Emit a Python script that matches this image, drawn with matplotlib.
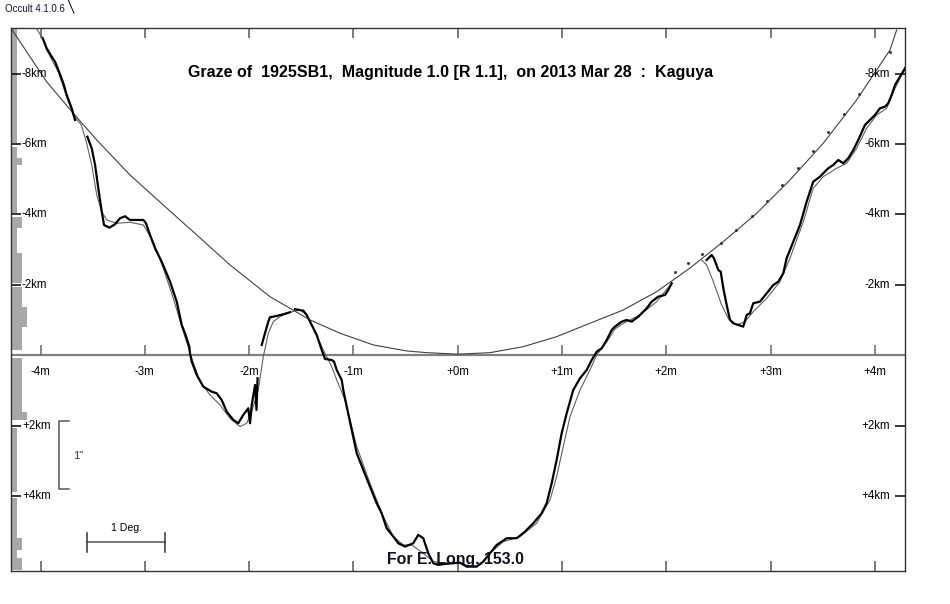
import matplotlib
matplotlib.use("Agg")
import matplotlib.pyplot as plt
from matplotlib.lines import Line2D

plt.rcParams['font.family'] = ['Liberation Sans', 'DejaVu Sans']

# x = minutes from central graze time, y = km from the limb (negative = north / up)
minute_ticks = [-4, -3, -2, -1, 0, 1, 2, 3, 4]
minute_labels = ['-4m', '-3m', '-2m', '-1m', '+0m', '+1m', '+2m', '+3m', '+4m']
km_ticks = [-8, -6, -4, -2, 2, 4]
km_labels = ['-8km', '-6km', '-4km', '-2km', '+2km', '+4km']

# mean limb curve
limb_x = [-4.273, -4.101, -3.941, -3.686, -3.461, -3.142, -2.823, -2.502, -2.183, -1.800,
          -1.416, -1.128, -0.809, -0.489, -0.297, 0.0, 0.310, 0.629, 0.949, 1.268,
          1.588, 1.908, 2.225, 2.546, 2.867, 3.186, 3.505, 3.825, 4.145, 4.209]
limb_y = [-9.25, -8.48, -7.77, -6.875, -6.116, -5.122, -4.270, -3.418, -2.565, -1.665,
          -1.003, -0.625, -0.293, -0.122, -0.074, -0.03, -0.074, -0.244, -0.528, -0.909,
          -1.287, -1.807, -2.472, -3.227, -4.034, -4.980, -6.023, -7.253, -8.673, -9.241]

# dotted limb points
dot_x = [2.083, 2.208, 2.339, 2.522, 2.668, 2.819, 2.963, 3.112, 3.260, 3.404,
         3.553, 3.704, 3.850, 3.998, 4.148]
dot_y = [-2.367, -2.622, -2.869, -3.182, -3.560, -3.966, -4.392, -4.838, -5.313, -5.804,
         -6.335, -6.864, -7.423, -8.011, -8.608]

# Kaguya profile (thick), in pieces
kag1_x = [-3.979, -3.941, -3.893, -3.861, -3.829, -3.781, -3.749, -3.701, -3.669]
kag1_y = [-9.006, -8.722, -8.483, -8.341, -8.105, -7.727, -7.395, -7.017, -6.685]

kag2_x = [-3.551, -3.509, -3.477, -3.446, -3.413, -3.391, -3.340, -3.286, -3.238, -3.190,
          -3.142, -3.078, -3.014, -2.989, -2.950, -2.902, -2.838, -2.758, -2.694, -2.646,
          -2.615, -2.573, -2.567, -2.550, -2.502, -2.439, -2.359, -2.311, -2.263, -2.215,
          -2.151, -2.104, -2.056, -2.008, -1.991, -1.975, -1.943, -1.929, -1.919]
kag2_y = [-6.210, -5.881, -5.406, -4.744, -4.080, -3.702, -3.625, -3.722, -3.892, -3.949,
          -3.844, -3.844, -3.844, -3.750, -3.418, -3.040, -2.659, -2.091, -1.523, -0.861,
          -0.625, -0.244, -0.057, 0.182, 0.560, 0.892, 1.034, 1.080, 1.270, 1.602,
          1.838, 1.932, 1.696, 1.506, 1.932, 1.412, 0.844, 1.554, 0.653]

kag3_x = [-1.879, -1.848, -1.816, -1.800, -1.735, -1.672, -1.608]
kag3_y = [-0.293, -0.625, -0.955, -1.080, -1.116, -1.165, -1.222]

kag4_x = [-1.560, -1.480, -1.448, -1.400, -1.352, -1.304, -1.272, -1.208, -1.186, -1.160,
          -1.112, -1.097, -1.064, -1.016, -0.968, -0.905, -0.841, -0.777, -0.729, -0.681,
          -0.617, -0.570, -0.505, -0.426, -0.378, -0.330, -0.282, -0.234, -0.186, -0.122,
          -0.042, 0.022, 0.086, 0.182, 0.245, 0.310, 0.374, 0.470, 0.566, 0.645,
          0.725, 0.805, 0.853, 0.901, 0.949, 0.997, 1.045, 1.108, 1.173, 1.237,
          1.285, 1.333, 1.381, 1.429, 1.477, 1.508, 1.572, 1.620, 1.668, 1.732,
          1.812, 1.860, 1.923, 1.988, 2.019, 2.052]
kag4_y = [-1.307, -1.267, -1.145, -0.861, -0.577, -0.151, 0.105, 0.134, 0.182, 0.418,
          0.702, 0.986, 1.460, 2.122, 2.784, 3.259, 3.733, 4.205, 4.489, 4.915,
          5.153, 5.341, 5.438, 5.341, 5.105, 5.199, 5.625, 5.909, 5.957, 5.929,
          5.909, 5.892, 6.006, 6.006, 5.864, 5.625, 5.389, 5.199, 5.199, 5.011,
          4.773, 4.489, 4.205, 3.636, 2.974, 2.216, 1.648, 0.986, 0.653, 0.418,
          0.134, -0.102, -0.199, -0.435, -0.719, -0.813, -0.955, -1.003, -0.955, -1.097,
          -1.335, -1.523, -1.665, -1.713, -1.855, -2.045]

kag5_x = [2.387, 2.435, 2.457, 2.499, 2.522, 2.547, 2.579, 2.611, 2.642, 2.690,
          2.738, 2.771, 2.802, 2.834, 2.898, 2.963, 3.026, 3.074, 3.122, 3.154,
          3.218, 3.282, 3.346, 3.409, 3.474, 3.505, 3.553, 3.601, 3.649, 3.697,
          3.745, 3.793, 3.841, 3.905, 3.953, 4.001, 4.049, 4.097, 4.128, 4.161,
          4.193, 4.241, 4.289, 4.356]
kag5_y = [-2.707, -2.849, -2.756, -2.423, -2.375, -1.903, -1.429, -1.003, -0.909, -0.861,
          -0.813, -1.145, -1.193, -1.477, -1.523, -1.761, -1.997, -2.091, -2.330, -2.756,
          -3.227, -3.702, -4.364, -4.932, -5.074, -5.170, -5.313, -5.406, -5.548, -5.455,
          -5.597, -5.832, -6.116, -6.543, -6.685, -6.827, -7.017, -7.063, -7.159, -7.395,
          -7.679, -7.915, -8.153, -8.531]

# smoothed profile (thin)
thin1_x = [-4.043, -3.979, -3.941, -3.829, -3.749, -3.686, -3.609, -3.561, -3.509, -3.461,
           -3.413, -3.365, -3.269, -3.142, -3.014, -2.919, -2.823, -2.727, -2.631, -2.550,
           -2.471, -2.375, -2.279, -2.183, -2.087, -2.023, -1.975, -1.912, -1.864, -1.816,
           -1.768, -1.704, -1.608, -1.512, -1.448, -1.384, -1.289, -1.208, -1.160, -1.081,
           -0.968, -0.841, -0.713, -0.617, -0.522, -0.441, -0.330, -0.234, -0.105, 0.022,
           0.134, 0.214, 0.310, 0.437, 0.597, 0.757, 0.885, 0.949, 1.012, 1.077,
           1.173, 1.268, 1.333, 1.429, 1.508, 1.588, 1.748, 1.908, 2.052]
thin1_y = [-9.298, -9.006, -8.673, -8.048, -7.338, -6.827, -6.543, -6.068, -5.406, -4.554,
           -4.080, -3.844, -3.750, -3.778, -3.702, -3.227, -2.472, -1.619, -0.670, 0.085,
           0.750, 1.128, 1.412, 1.790, 2.028, 1.932, 1.602, 0.986, 0.040, -0.625,
           -0.955, -1.097, -1.222, -1.287, -1.145, -0.767, -0.151, 0.324, 0.702, 1.270,
           2.597, 3.636, 4.585, 5.153, 5.389, 5.389, 5.625, 5.864, 5.909, 5.909,
           6.006, 5.957, 5.625, 5.295, 5.153, 4.773, 4.111, 3.449, 2.597, 1.744,
           0.986, 0.418, -0.009, -0.378, -0.747, -0.909, -1.145, -1.523, -2.045]

thin2_x = [2.339, 2.387, 2.451, 2.531, 2.594, 2.675, 2.755, 2.834, 2.963, 3.090,
           3.186, 3.314, 3.409, 3.505, 3.634, 3.730, 3.825, 3.921, 4.017, 4.113,
           4.177, 4.241, 4.289, 4.356]
thin2_y = [-2.707, -2.565, -2.091, -1.429, -1.051, -0.861, -0.955, -1.239, -1.619, -2.091,
           -2.756, -3.795, -4.744, -5.074, -5.313, -5.455, -5.881, -6.449, -6.827, -7.017,
           -7.489, -7.869, -8.153, -8.531]

# grey bars along the left edge (km intervals and length in minutes)
bar_lo = [-9.27, -5.92, -5.61, -5.41, -3.93, -3.62, -2.91, -1.94, -1.37, -0.80,
          0.08, 1.61, 2.07, 4.05, 5.19, 5.53, 5.76]
bar_hi = [-6.03, -5.61, -5.41, -4.04, -3.62, -2.91, -2.05, -1.37, -0.80, -0.15,
          1.61, 1.84, 3.88, 5.19, 5.53, 5.76, 6.10]
bar_len = [0.051, 0.051, 0.099, 0.051, 0.099, 0.051, 0.099, 0.099, 0.147, 0.099,
           0.099, 0.147, 0.051, 0.051, 0.099, 0.051, 0.099]

X_MIN, X_MAX = -4.286, 4.289
Y_TOP, Y_BOT = -9.29, 6.13

fig = plt.figure(figsize=(9.5, 6.04), dpi=100)
ax = fig.add_axes([10.7 / 950, 1 - 571 / 604, 894.3 / 950, 542.7 / 604])
ax.set_xlim(X_MIN, X_MAX)
ax.set_ylim(Y_BOT, Y_TOP)

# left grey bars
heights = [h - l for l, h in zip(bar_lo, bar_hi)]
ax.barh(bar_lo, bar_len, height=heights, left=X_MIN + 0.012, align='edge',
        color='#a8a8a8', linewidth=0, zorder=1)

# zero line and its ticks
ax.axhline(0, color='#808080', lw=1.6, zorder=2)
ax.vlines(minute_ticks, -0.30, 0, color='#666666', lw=1.1, zorder=2)
for t, lab in zip(minute_ticks, minute_labels):
    ax.text(t, 0.47, lab, ha='center', va='center', fontsize=8.3, color='black')

# limb, dots, profiles
ax.plot(limb_x, limb_y, color='#404040', lw=0.8, zorder=3)
ax.plot(dot_x, dot_y, ls='none', marker='s', ms=1.0, color='#333333', zorder=3)
for xs, ys in [(thin1_x, thin1_y), (thin2_x, thin2_y)]:
    ax.plot(xs, ys, color='#606060', lw=0.8, zorder=4)
for xs, ys in [(kag1_x, kag1_y), (kag2_x, kag2_y), (kag3_x, kag3_y),
               (kag4_x, kag4_y), (kag5_x, kag5_y)]:
    ax.plot(xs, ys, color='black', lw=1.6, zorder=5)

# frame ticks
ax.set_xticks(minute_ticks)
ax.set_yticks(km_ticks)
ax.tick_params(axis='x', top=True, bottom=True, direction='in', length=7.5,
               width=1.1, color='#555555', labelbottom=False)
ax.tick_params(axis='y', left=True, right=True, direction='in', length=7,
               width=1.1, color='black', labelleft=False)
for s in ax.spines.values():
    s.set_color('#333333')
    s.set_linewidth(1.0)

# km labels on both sides
for t, lab in zip(km_ticks, km_labels):
    ax.text(0.0126, t, lab, transform=ax.get_yaxis_transform(), ha='left',
            va='center', fontsize=8.3, color='black')
    ax.text(0.9832, t, lab, transform=ax.get_yaxis_transform(), ha='right',
            va='center', fontsize=8.3, color='black')

# scale bars
ax.plot([0.0655, 0.0543, 0.0543, 0.0655], [0.2764, 0.2764, 0.1511, 0.1511],
        transform=ax.transAxes, color='#555555', lw=1.1)
ax.text(0.0700, 0.2119, '1"', transform=ax.transAxes, ha='left', va='center',
        fontsize=8, color='#5a1a5a')
ax.plot([0.0857, 0.1725], [0.0540, 0.0540], transform=ax.transAxes, color='#555555', lw=1.1)
ax.plot([0.0857, 0.0857], [0.0350, 0.0700], transform=ax.transAxes, color='#333333', lw=1.1)
ax.plot([0.1725, 0.1725], [0.0350, 0.0700], transform=ax.transAxes, color='#333333', lw=1.1)
ax.text(0.1291, 0.0792, '1 Deg.', transform=ax.transAxes, ha='center', va='center',
        fontsize=7.6, color='black')

# titles
ax.text(0.4923, 0.9193, 'Graze of  1925SB1,  Magnitude 1.0 [R 1.1],  on 2013 Mar 28  :  Kaguya',
        transform=ax.transAxes, ha='center', va='center', fontsize=11.5,
        fontweight='bold', color='black', zorder=6)
ax.text(0.4968, 0.0221, 'For E. Long. 153.0', transform=ax.transAxes, ha='center',
        va='center', fontsize=11.4, fontweight='bold', color='#101020', zorder=6)

fig.text(0.0053, 0.985, 'Occult 4.1.0.6', ha='left', va='center', fontsize=7, color='#101040')
fig.add_artist(Line2D([68.3 / 950, 74 / 950], [1.0, 1 - 13.3 / 604], color='black', lw=0.7))

fig.savefig('out.png', dpi=100)
